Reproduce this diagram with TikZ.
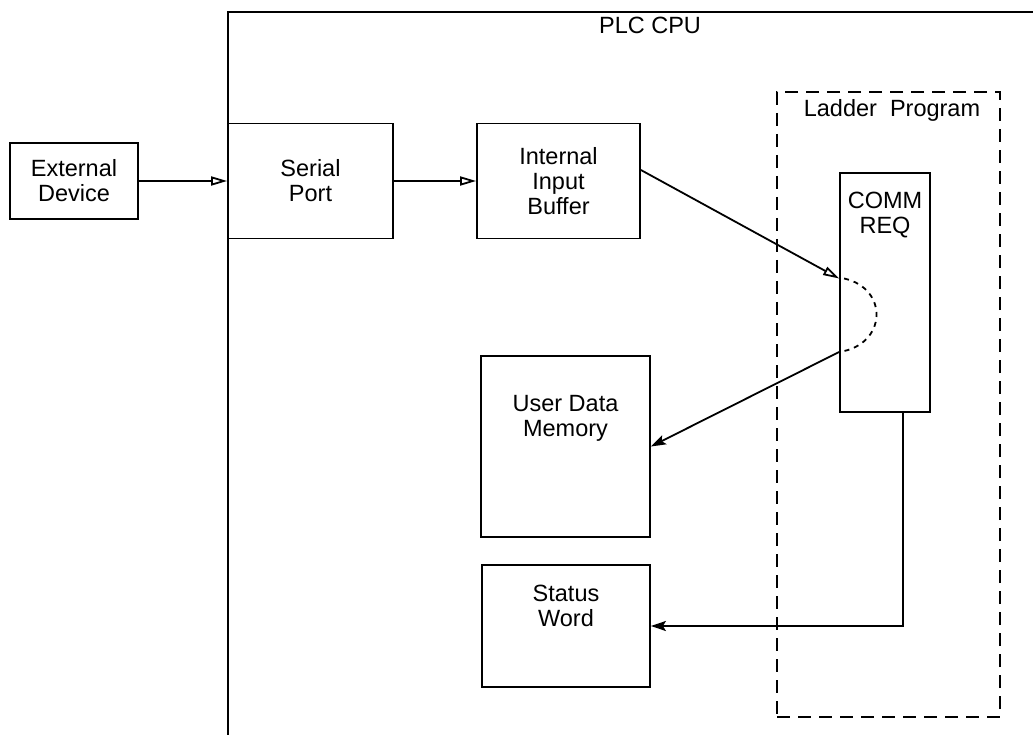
\documentclass[tikz,border=0pt]{standalone}
\usepackage{fontspec}
\setmainfont{Liberation Sans}
\usepackage{tikz}
\usetikzlibrary{positioning}
\usetikzlibrary{arrows.meta}
\tikzset{>={Stealth[length=15pt,width=10pt,inset=3pt]}}
\tikzset{blk/.style={draw, inner sep=0pt, align=center},
  toptext/.style={anchor=north, align=center},
  opn/.style={-{Triangle[open,length=16pt,width=9pt]}}}

\begin{document}
\begin{tikzpicture}[x=1pt, y=-1pt, line width=1.8pt, font=\fontsize{23.5}{25}\selectfont]
\useasboundingbox (0,0) rectangle (1033,735);
\draw (1033,12) -- (228,12) -- (228,735);
\node (cpu) at (650,25) {PLC CPU};
\node[blk, dash pattern=on 13pt off 8pt, minimum width=223pt, minimum height=625pt] (ladder) at (888.5,404.5) {};
\node (ladname) at (892,110) {Ladder\ \ Program};
\node[blk, minimum width=128pt, minimum height=76pt] (ext) at (74,181) {External\\Device};
\node[blk, minimum width=165pt, minimum height=115pt] (serial) at (310.5,181) {Serial\\Port};
\node[blk, minimum width=163pt, minimum height=115pt] (buf) at (558.5,181) {Internal\\Input\\Buffer};
\node[blk, minimum width=90pt, minimum height=239pt,
  label={[toptext, yshift=-16pt]north:{COMM\\REQ}}] (comm) at (885,292.5) {};
\node[blk, minimum width=169pt, minimum height=181pt,
  label={[toptext, yshift=-36pt]north:{User Data\\Memory}}] (user) at (565.5,446.5) {};
\node[blk, minimum width=168pt, minimum height=122pt,
  label={[toptext, yshift=-17pt]north:{Status\\Word}}] (status) at (566,626) {};
\coordinate (bufout) at ([yshift=11pt]buf.east);
\coordinate (reqin) at ([yshift=14pt]comm.west);
\coordinate (reqout) at ([yshift=-59.5pt]comm.west);
\draw[opn] (ext.east) -- (ext.east -| serial.west);
\draw[opn] (serial) -- (buf);
\draw[opn] (bufout) -- (reqin);
\draw[dash pattern=on 5pt off 5pt] ([xshift=5pt]reqin) .. controls +(45,10) and +(48,-7) .. (reqout);
\draw[->] (reqout) -- (user.east);
\draw[->] ([xshift=18pt]comm.south) |- (status.east);
\end{tikzpicture}
\end{document}
